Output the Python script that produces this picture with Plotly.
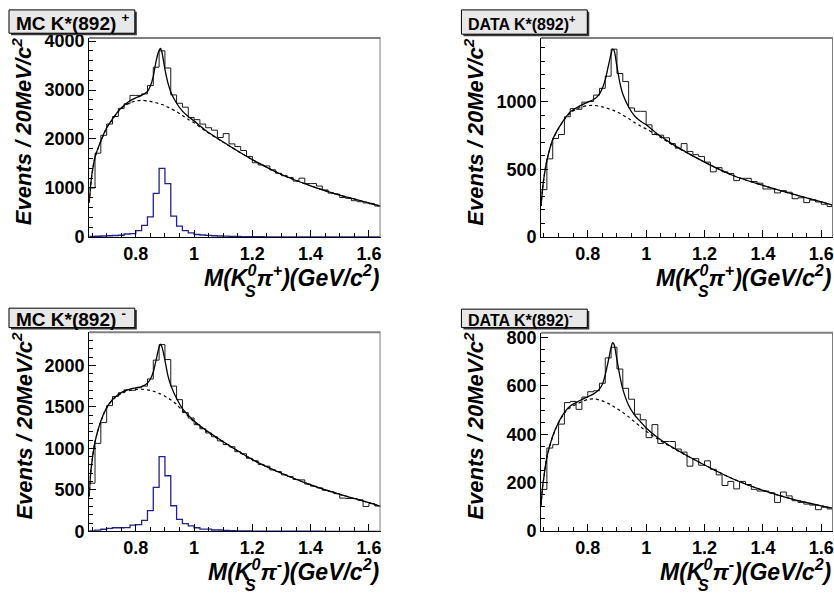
import plotly.graph_objects as go

W, H = 834, 597
FONT = "Liberation Sans"

# ---------------- data ----------------
BIN_EDGES = [round(0.64 + 0.02 * i, 2) for i in range(51)]

CURVE_X = [0.64, 0.645, 0.65, 0.66, 0.68, 0.70, 0.72, 0.74, 0.76, 0.78, 0.80, 0.82,
           0.84, 0.85, 0.86, 0.87, 0.88, 0.885, 0.89, 0.90, 0.91, 0.92, 0.94, 0.96,
           0.98, 1.00, 1.04, 1.10, 1.20, 1.30, 1.40, 1.50, 1.60, 1.64]

X_TICKS = [0.8, 1.0, 1.2, 1.4, 1.6]
X_TICK_LABELS = ["0.8", "1", "1.2", "1.4", "1.6"]

# MC K*(892)+
MC_PLUS_HIST = [1000, 1710, 2075, 2305, 2460, 2625, 2720, 2890, 2890, 2920,
                3090, 3465, 3800, 3450, 2900, 2730, 2650, 2440, 2395, 2305,
                2230, 2180, 2030, 2110, 1900, 1845, 1765, 1645, 1515, 1470,
                1450, 1370, 1300, 1250, 1215, 1140, 1200, 1090, 1090, 1040,
                960, 895, 875, 805, 790, 740, 720, 695, 675, 630]
MC_PLUS_SIGNAL = [10, 15, 20, 25, 30, 35, 60, 70, 130, 235,
                  410, 890, 1400, 1090, 425, 220, 130, 85, 50, 40,
                  32, 25, 20, 16, 13, 10, 8, 6, 5, 4,
                  3, 3, 2, 2, 2, 1, 1, 1, 1, 1,
                  1, 1, 0, 0, 0, 0, 0, 0, 0, 0]
MC_PLUS_FIT = [700, 1050, 1300, 1630, 1960, 2230, 2410, 2570, 2690, 2780, 2840, 2890,
               2970, 3080, 3280, 3600, 3810, 3850, 3760, 3420, 3150, 2960, 2730, 2570,
               2460, 2370, 2175, 1940, 1580, 1275, 1045, 855, 695, 630]
MC_PLUS_BKG = [700, 1050, 1300, 1628, 1955, 2222, 2400, 2560, 2670, 2740, 2775, 2788,
               2778, 2768, 2755, 2740, 2722, 2713, 2703, 2680, 2650, 2620, 2560, 2480,
               2400, 2330, 2160, 1935, 1578, 1275, 1045, 855, 695, 630]

# DATA K*(892)+
DATA_PLUS_HIST = [350, 578, 729, 758, 890, 950, 945, 998, 1002, 1050,
                  1100, 1190, 1390, 1210, 1150, 955, 930, 930, 830, 758,
                  753, 734, 691, 657, 691, 633, 609, 595, 554, 482,
                  513, 482, 470, 417, 434, 434, 410, 398, 355, 355,
                  326, 343, 331, 283, 290, 254, 273, 259, 242, 225]
DATA_PLUS_FIT = [230, 350, 440, 566, 722, 806, 873, 926, 954, 978, 998, 1017,
                 1058, 1100, 1165, 1261, 1357, 1390, 1381, 1261, 1141, 1058, 962, 897,
                 858, 830, 760, 674, 554, 453, 381, 318, 260, 235]
DATA_PLUS_BKG = [230, 350, 440, 565, 720, 803, 868, 918, 945, 962, 972, 974,
                 968, 963, 957, 950, 943, 939, 935, 926, 915, 903, 876, 848,
                 822, 800, 750, 670, 554, 453, 381, 318, 260, 235]

# MC K*(892)-
MC_MINUS_HIST = [580, 1060, 1310, 1515, 1625, 1670, 1705, 1700, 1730, 1750,
                 1836, 2063, 2250, 2070, 1750, 1587, 1431, 1365, 1285, 1236,
                 1185, 1140, 1090, 1045, 1020, 960, 935, 880, 850, 805,
                 785, 740, 720, 680, 660, 625, 620, 570, 545, 525,
                 495, 480, 455, 400, 395, 395, 380, 300, 335, 305]
MC_MINUS_SIGNAL = [5, 15, 25, 35, 43, 43, 45, 74, 82, 133,
                   250, 530, 900, 670, 308, 144, 94, 66, 43, 27,
                   27, 16, 16, 10, 8, 6, 5, 4, 3, 3,
                   2, 2, 2, 1, 1, 1, 1, 1, 1, 1,
                   0, 0, 0, 0, 0, 0, 0, 0, 0, 0]
MC_MINUS_FIT = [420, 700, 850, 1080, 1330, 1490, 1590, 1650, 1690, 1715, 1730, 1745,
                1785, 1835, 1920, 2070, 2220, 2255, 2220, 2060, 1880, 1760, 1600, 1480,
                1400, 1330, 1220, 1080, 865, 700, 560, 445, 345, 300]
MC_MINUS_BKG = [420, 700, 850, 1078, 1325, 1485, 1582, 1640, 1676, 1698, 1710, 1712,
                1705, 1698, 1688, 1676, 1662, 1654, 1646, 1628, 1607, 1585, 1530, 1455,
                1385, 1318, 1210, 1075, 865, 700, 560, 445, 345, 300]

# DATA K*(892)-
DATA_MINUS_HIST = [172, 343, 357, 442, 531, 536, 503, 554, 576, 580,
                   611, 716, 760, 670, 590, 545, 483, 460, 386, 440,
                   362, 370, 370, 339, 326, 268, 299, 272, 290, 255,
                   232, 188, 205, 174, 205, 192, 172, 165, 165, 158,
                   118, 161, 145, 125, 118, 111, 107, 88, 98, 91]
DATA_MINUS_FIT = [105, 180, 225, 306, 393, 450, 491, 517, 531, 544, 555, 567,
                  587, 607, 647, 701, 759, 779, 772, 708, 641, 587, 520, 480,
                  453, 426, 386, 339, 273, 214, 168, 132, 104, 94]
DATA_MINUS_BKG = [105, 180, 225, 305, 391, 447, 487, 511, 523, 535, 544, 546,
                  542, 538, 533, 528, 522, 518, 514, 506, 498, 490, 472, 452,
                  432, 413, 380, 337, 273, 214, 168, 132, 104, 94]

PANEL_TITLES = ["MC K*(892) <sup>+</sup>", "DATA K*(892)<sup>+</sup>",
                "MC K*(892) <sup>-</sup>", "DATA K*(892)<sup>-</sup>"]
Y_TITLE = "Events / 20MeV/c<sup>2</sup>"


# ---------------- layout helpers (pixel geometry) ----------------
def fx(x):
    return x / W


def fy(y):
    return 1 - y / H


panels = [
    dict(frame=(89.3, 381.0, 32.0, 236.7), ymax=4060, dtick=1000, minor=200,
         hist=MC_PLUS_HIST, sig=MC_PLUS_SIGNAL, fit=MC_PLUS_FIT, bkg=MC_PLUS_BKG,
         title=PANEL_TITLES[0], box=(9, 3, 135, 27), tsize=19, charge="+",
         ytx=22),
    dict(frame=(541.7, 834.0, 32.0, 236.7), ymax=1472, dtick=500, minor=100,
         hist=DATA_PLUS_HIST, sig=None, fit=DATA_PLUS_FIT, bkg=DATA_PLUS_BKG,
         title=PANEL_TITLES[1], box=(462, 3, 588, 28), tsize=16, charge="+",
         ytx=475),
    dict(frame=(89.3, 381.0, 334.7, 539.7), ymax=2400, dtick=500, minor=100,
         hist=MC_MINUS_HIST, sig=MC_MINUS_SIGNAL, fit=MC_MINUS_FIT, bkg=MC_MINUS_BKG,
         title=PANEL_TITLES[2], box=(9, 310, 135, 330), tsize=19, charge="-",
         ytx=22),
    dict(frame=(541.7, 834.0, 335.3, 539.3), ymax=820, dtick=200, minor=50,
         hist=DATA_MINUS_HIST, sig=None, fit=DATA_MINUS_FIT, bkg=DATA_MINUS_BKG,
         title=PANEL_TITLES[3], box=(462, 311, 588, 330), tsize=16, charge="-",
         ytx=475),
]

fig = go.Figure()
shapes = []
annotations = []
layout = {}

tickfont = dict(family=FONT, size=18, color="black", weight="bold")

for i, p in enumerate(panels):
    n = "" if i == 0 else str(i + 1)
    xa, ya = "x" + n, "y" + n
    x0, x1, y0, y1 = p["frame"]

    layout["xaxis" + n] = dict(
        domain=[fx(x0), fx(x1)], range=[0.64, 1.64], anchor=ya,
        tickmode="array", tickvals=X_TICKS, ticktext=X_TICK_LABELS,
        ticks="inside", ticklen=7, tickwidth=1, tickcolor="black",
        minor=dict(ticks="inside", ticklen=4, dtick=0.05, tick0=0.0,
                   tickcolor="black", tickwidth=1),
        showgrid=False, zeroline=False, showline=True, linecolor="black",
        linewidth=1, tickfont=tickfont, fixedrange=True)
    layout["yaxis" + n] = dict(
        domain=[fy(y1), fy(y0)], range=[0, p["ymax"]], anchor=xa,
        tick0=0, dtick=p["dtick"], tickformat="d",
        ticks="inside", ticklen=7, tickwidth=1, tickcolor="black",
        minor=dict(ticks="inside", ticklen=4, dtick=p["minor"], tick0=0,
                   tickcolor="black", tickwidth=1),
        showgrid=False, zeroline=False, showline=True, linecolor="black",
        linewidth=1, tickfont=tickfont, fixedrange=True)

    # signal MC histogram (blue)
    if p["sig"] is not None:
        fig.add_trace(go.Scatter(
            x=BIN_EDGES, y=p["sig"] + [p["sig"][-1]], xaxis=xa, yaxis=ya,
            mode="lines", line=dict(shape="hv", color="#22228c", width=1.3),
            hoverinfo="skip", showlegend=False))
    # histogram
    fig.add_trace(go.Scatter(
        x=BIN_EDGES, y=p["hist"] + [p["hist"][-1]], xaxis=xa, yaxis=ya,
        mode="lines", line=dict(shape="hv", color="#1a1a1a", width=1),
        hoverinfo="skip", showlegend=False))
    # background (dotted)
    fig.add_trace(go.Scatter(
        x=CURVE_X, y=p["bkg"], xaxis=xa, yaxis=ya, mode="lines",
        line=dict(shape="spline", smoothing=0.8, color="black", width=1.2, dash="dot"),
        hoverinfo="skip", showlegend=False))
    # total fit (solid)
    fig.add_trace(go.Scatter(
        x=CURVE_X, y=p["fit"], xaxis=xa, yaxis=ya, mode="lines",
        line=dict(shape="spline", smoothing=0.8, color="black", width=1.3),
        hoverinfo="skip", showlegend=False))

    # frame top/right (grey)
    shapes.append(dict(type="line", xref="paper", yref="paper",
                       x0=fx(x0), x1=fx(x1), y0=fy(y0), y1=fy(y0),
                       line=dict(color="#808080", width=2), layer="above"))
    shapes.append(dict(type="line", xref="paper", yref="paper",
                       x0=fx(x1) - 0.0006, x1=fx(x1) - 0.0006, y0=fy(y0), y1=fy(y1),
                       line=dict(color="#808080", width=1), layer="above"))

    # y-axis title (drawn before the box so the box sits on top)
    annotations.append(dict(
        xref="paper", yref="paper", x=fx(p["ytx"]), y=fy(y1 - 10),
        xanchor="center", yanchor="bottom", textangle=-90, showarrow=False,
        text=Y_TITLE,
        font=dict(family=FONT, size=22, color="black", weight="bold", style="italic")))

    # title box with shadow
    bx0, by0, bx1, by1 = p["box"]
    shapes.append(dict(type="rect", xref="paper", yref="paper",
                       x0=fx(bx0 + 2), x1=fx(bx1 + 2), y0=fy(by1 + 2), y1=fy(by0 + 2),
                       fillcolor="#3a3a3a", line=dict(width=0), layer="above"))
    shapes.append(dict(type="rect", xref="paper", yref="paper",
                       x0=fx(bx0), x1=fx(bx1), y0=fy(by1), y1=fy(by0),
                       fillcolor="#e8e8e8", line=dict(color="black", width=1),
                       layer="above"))
    annotations.append(dict(
        xref="paper", yref="paper", x=fx(bx0 + 5), y=fy((by0 + by1) / 2 + 0.5),
        xanchor="left", yanchor="middle", showarrow=False, text=p["title"],
        font=dict(family=FONT, size=p["tsize"], color="black", weight="bold")))

    # x-axis title, right aligned at frame edge
    annotations.append(dict(
        xref="paper", yref="paper", x=fx(x1), y=fy(y1 + 40),
        xanchor="right", yanchor="middle", showarrow=False,
        text="M(K<sup>0</sup>π<sup>%s</sup>)(GeV/c<sup>2</sup>)" % p["charge"],
        font=dict(family=FONT, size=23, color="black", weight="bold", style="italic")))
    annotations.append(dict(
        xref="paper", yref="paper", x=fx(x1 - 130), y=fy(y1 + 56),
        xanchor="center", yanchor="middle", showarrow=False, text="S",
        font=dict(family=FONT, size=16, color="black", weight="bold", style="italic")))

layout.update(dict(
    width=W, height=H, margin=dict(l=0, r=0, t=0, b=0),
    paper_bgcolor="white", plot_bgcolor="white",
    shapes=shapes, annotations=annotations, showlegend=False,
    font=dict(family=FONT, color="black")))
fig.update_layout(**layout)
fig.write_html("out.html")
